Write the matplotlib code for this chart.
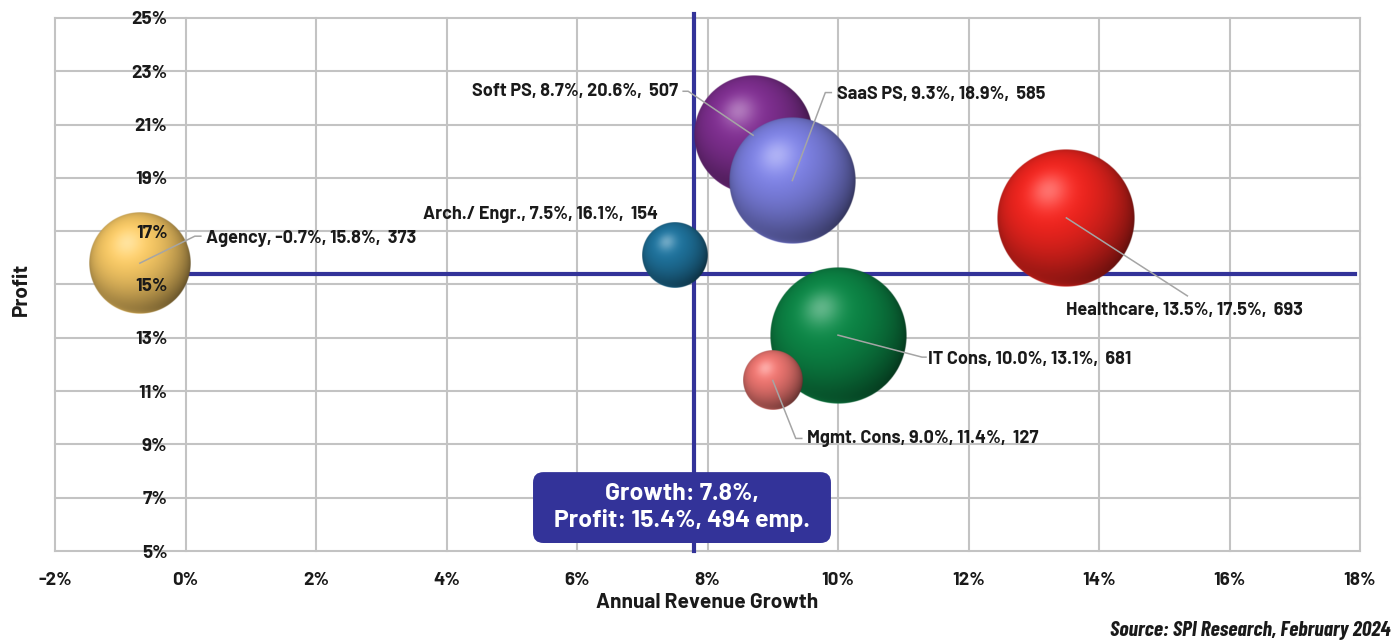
import numpy as np
import matplotlib
matplotlib.use("Agg")
import matplotlib.pyplot as plt
from matplotlib import font_manager
from matplotlib.colors import to_rgb
from matplotlib.patches import FancyBboxPatch
from matplotlib.transforms import offset_copy

# segment data: revenue growth (%), profit (%), average employees
names = ["Agency", "Arch./ Engr.", "Soft PS", "SaaS PS", "Healthcare", "IT Cons", "Mgmt. Cons"]
growth = [-0.7, 7.5, 8.7, 9.3, 13.5, 10.0, 9.0]
profit = [15.8, 16.1, 20.6, 18.9, 17.5, 13.1, 11.4]
employees = [373, 154, 507, 585, 693, 681, 127]
colors = ["#F2C462", "#1E7099", "#7D2E8E", "#7A7EDE", "#EC241E", "#0C8445", "#E8736E"]

# overall averages
avg_growth = 7.8
avg_profit = 15.4
avg_employees = 494

x_ticks = list(range(-2, 19, 2))
y_ticks = list(range(5, 26, 2))


def pick_font(candidates):
    have = {f.name for f in font_manager.fontManager.ttflist}
    for c in candidates:
        if c in have:
            return c
    return "DejaVu Sans"


main_font = pick_font(["Barlow", "Roboto", "Inter", "Noto Sans"])
narrow_font = pick_font(["Barlow Condensed", "Roboto Condensed", "Liberation Sans Narrow", main_font])
plt.rcParams["font.family"] = [main_font, "DejaVu Sans"]

ink = "#1A1A1A"
grid_col = "#C3C3C3"
navy = "#333399"

fig = plt.figure(figsize=(13.97, 6.43), dpi=100)
rect = [55 / 1397, 1 - 551 / 643, 1305 / 1397, 533 / 643]
ax = fig.add_axes(rect)
ax.set_xlim(-2, 18)
ax.set_ylim(5, 25)
ax.set_xticks(x_ticks)
ax.set_yticks(y_ticks)
ax.grid(True, color=grid_col, linewidth=1.5)
ax.set_axisbelow(True)
for ln in ax.get_xgridlines() + ax.get_ygridlines():
    ln.set_clip_on(False)
for s in ax.spines.values():
    s.set_visible(False)
ax.tick_params(axis="both", length=0, labelleft=False, labelbottom=False)

# average crosshair
ax.plot([avg_growth, avg_growth], [5, 25.15], color=navy, lw=3, zorder=2, clip_on=False)
ax.plot([0, 17.93], [avg_profit, avg_profit], color=navy, lw=3, zorder=2, clip_on=False)


def sphere(color, n=300):
    u = np.linspace(-1, 1, n)
    X, Y = np.meshgrid(u, u)
    r = np.sqrt(X ** 2 + Y ** 2)
    nz = np.sqrt(np.clip(1 - r ** 2, 0, 1))
    nx, ny = X, -Y
    L = np.array([-0.25, 0.4, 0.88])
    L = L / np.linalg.norm(L)
    d = nx * L[0] + ny * L[1] + nz * L[2]
    w = np.clip(0.5 + 0.5 * d, 0, 1)
    base = np.array(to_rgb(color))
    rgb = base * (0.16 + 0.92 * w ** 1.35)[..., None]
    spec = np.clip(d, 0, 1) ** 26
    rgb = rgb + (1 - rgb) * (0.34 * spec)[..., None]
    rim = np.clip(-ny, 0, 1) ** 2 * (1 - nz) ** 3 * np.clip(1 - 0.8 * nx, 0, 1)
    rgb = rgb + base * (0.6 * rim)[..., None]
    rgb = np.clip(rgb, 0, 1)
    alpha = np.clip((1 - r) * n / 2, 0, 1)
    return np.dstack([rgb, alpha])


bb = ax.get_window_extent()
kx = bb.width / 20.0
ky = bb.height / 20.0
max_radius = 69.0
biggest = max(employees)

for i, (gx, py, emp, col) in enumerate(zip(growth, profit, employees, colors)):
    rad = max_radius * np.sqrt(emp / biggest)
    w = rad / kx
    h = rad / ky
    ax.imshow(sphere(col), extent=[gx - w, gx + w, py - h, py + h],
              aspect="auto", interpolation="bilinear", zorder=3 + i)

ax.set_xlim(-2, 18)
ax.set_ylim(5, 25)

# label placement (pixel offsets from bubble centre) and leader elbows
label_pos = {
    "Agency": (66, 25, "left", [(0, 0), (55, 27), (61, 27)]),
    "Arch./ Engr.": (-17, 41, "right", None),
    "Soft PS": (-75, 44, "right", [(0, 0), (-65, 44), (-70, 44)]),
    "SaaS PS": (45, 86, "left", [(0, 0), (33, 88), (39, 88)]),
    "Healthcare": (0, -93, "left", [(0, 0), (121, -78)]),
    "IT Cons": (90, -24, "left", [(0, 0), (84, -22), (88, -22)]),
    "Mgmt. Cons": (34, -58, "left", [(0, 0), (23, -58), (29, -58)]),
}

to_disp = ax.transData
to_data = ax.transData.inverted()
for name, gx, py, emp in zip(names, growth, profit, employees):
    dx, dy, ha, leader = label_pos[name]
    if leader:
        c = to_disp.transform((gx, py))
        pts = to_data.transform(np.array(leader, dtype=float) + c)
        ax.plot(pts[:, 0], pts[:, 1], color="#A5A5A5", lw=1.1, zorder=20)
    tr = offset_copy(ax.transData, fig=fig, x=dx, y=dy, units="dots")
    ax.text(gx, py, f"{name}, {gx:.1f}%, {py:.1f}%,  {emp}", transform=tr,
            ha=ha, va="center", fontsize=13, fontweight="bold", color=ink, zorder=21)

# average summary box
box = FancyBboxPatch((0.3663, 0.015), 0.2283, 0.133, transform=ax.transAxes,
                     boxstyle="round,pad=0,rounding_size=0.008",
                     mutation_aspect=1305 / 533, fc=navy, ec="none", zorder=30, clip_on=False)
ax.add_patch(box)
ax.text(0.4805, 0.0815, f"Growth: {avg_growth:.1f}%,\nProfit: {avg_profit:.1f}%, {avg_employees} emp.",
        transform=ax.transAxes, ha="center", va="center", fontsize=17.8, fontweight="bold",
        color="white", linespacing=1.22, zorder=31)

# tick labels sit on top of the bubbles, so they live on an overlay axes
top = fig.add_axes(rect, zorder=ax.get_zorder() + 1)
top.patch.set_visible(False)
top.set_xlim(-2, 18)
top.set_ylim(5, 25)
top.set_xticks(x_ticks)
top.set_xticklabels([f"{v}%" for v in x_ticks])
top.set_yticks(y_ticks)
top.set_yticklabels([f"{v}%" for v in y_ticks])
for s in top.spines.values():
    s.set_visible(False)
top.spines["left"].set_position(("data", 0))
top.tick_params(axis="both", length=0, labelsize=13.5, labelcolor=ink)
top.tick_params(axis="y", pad=13)
top.tick_params(axis="x", pad=15)
for t in top.get_xticklabels() + top.get_yticklabels():
    t.set_fontweight("bold")

top.set_xlabel("Annual Revenue Growth", fontsize=15, fontweight="bold", color=ink, labelpad=3)
top.set_ylabel("Profit", fontsize=15, fontweight="bold", color=ink)
top.yaxis.set_label_coords(-0.0185, 0.49, transform=top.transAxes)

fig.text(1390 / 1397, 1 - 630 / 643, "Source: SPI Research, February 2024",
         ha="right", va="center", fontsize=15.5, fontweight="bold", fontstyle="italic",
         family=[narrow_font, "DejaVu Sans"], color=ink)

fig.savefig("out.png", dpi=100, facecolor="white")
